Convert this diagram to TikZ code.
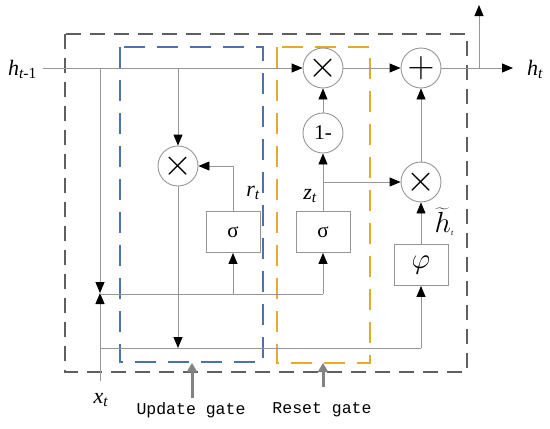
\documentclass[tikz,border=0pt]{standalone}
\usepackage{fontspec}
\setmainfont{Liberation Serif}
\setmonofont{Liberation Mono}
\usetikzlibrary{arrows.meta}
\definecolor{wiregray}{RGB}{150,150,150}
\definecolor{boxgray}{RGB}{95,95,95}
\definecolor{updblue}{RGB}{74,114,176}
\definecolor{rstyellow}{RGB}{230,170,40}
\definecolor{gatearrow}{RGB}{130,130,130}
\begin{document}
\begin{tikzpicture}[x=1pt,y=-1pt,
  wire/.style={draw=wiregray,line width=0.9pt},
  arr/.style={wire,-{Triangle[color=black,length=11pt,width=9pt]}},
  opnode/.style={circle,draw=wiregray,line width=0.9pt,minimum size=40pt,inner sep=0pt,fill=white,font=\fontsize{21}{21}\selectfont},
  actbox/.style={rectangle,draw=wiregray,line width=0.9pt,minimum width=54pt,minimum height=41pt,inner sep=0pt,fill=white,font=\fontsize{21}{21}\selectfont},
  lbl/.style={inner sep=0pt,font=\fontsize{22}{22}\selectfont\itshape},
  gatelbl/.style={inner sep=0pt,font=\fontsize{16.5}{16.5}\selectfont\ttfamily},
  gatearr/.style={draw=gatearrow,line width=3pt,-{Triangle[length=9pt,width=10pt]}},
  outerbox/.style={draw=boxgray,line width=1.2pt,dash pattern=on 15pt off 9pt},
  updbox/.style={draw=updblue,line width=1.8pt,dash pattern=on 21pt off 12pt},
  rstbox/.style={draw=rstyellow,line width=1.8pt,dash pattern=on 21pt off 12pt}
]
\useasboundingbox (0,0) rectangle (550,429);

% dashed regions
\draw[outerbox] (65,34) rectangle (467,372);
\draw[updbox] (120,47) rectangle (263,362);
\draw[rstbox] (277,47) rectangle (370,363);

% nodes
\node[opnode] (mulr) at (178,166) {\scalebox{1.8}{$\times$}};
\node[opnode] (multop) at (323,68) {\scalebox{1.8}{$\times$}};
\node[opnode] (oneminus) at (323,133) {1-};
\node[opnode] (plus) at (421,68) {\scalebox{1.8}{$+$}};
\node[opnode] (mulz) at (421,182) {\scalebox{1.8}{$\times$}};
\node[actbox] (sigr) at (233,232) {σ};
\node[actbox] (sigz) at (323,232) {σ};
\node[actbox] (phi) at (421,265) {\scalebox{1.4}{$\varphi$}};

% coordinates
\coordinate (hin) at (43,68);
\coordinate (jh) at (100,68);
\coordinate (jx) at (100,293);
\coordinate (xin) at (100,381);
\coordinate (jr) at (178,68);
\coordinate (ja) at (100,294);
\coordinate (ja1) at (233,294);
\coordinate (ja2) at (323,294);
\coordinate (jb) at (100,348);
\coordinate (jb1) at (178,348);
\coordinate (jb2) at (421,348);
\coordinate (jz) at (323,182);
\coordinate (hout) at (513,68);
\coordinate (jup) at (479,68);
\coordinate (upout) at (479,5);

% labels
\node[lbl,anchor=east] (lhprev) at (37,69) {h\textsubscript{t\upshape -1}};
\node[lbl,anchor=west] (lhout) at (527,69) {h\textsubscript{t}};
\node[lbl] (lx) at (101,400) {x\textsubscript{t}};
\node[lbl] (lr) at (253,193) {r\textsubscript{t}};
\node[lbl] (lz) at (310,196) {z\textsubscript{t}};
\node[lbl] (lht) at (444,222) {\scalebox{1.4}{$\widetilde{h}$}\raisebox{-3pt}{\fontsize{8}{8}\selectfont t}};

% wires
\draw[arr] (hin) -- (multop);
\draw[arr] (jh) -- (jx);
\draw[arr] (xin) -- (jx);
\draw[arr] (jr) -- (mulr);
\draw[wire] (ja) -- (ja2);
\draw[arr] (ja1) -- (sigr);
\draw[arr] (ja2) -- (sigz);
\draw[arr] (sigr.north) |- (mulr);
\draw[arr] (mulr) -- (jb1);
\draw[wire] (jb) -- (jb2);
\draw[arr] (jb2) -- (phi);
\draw[arr] (sigz) -- (oneminus);
\draw[arr] (jz) -- (mulz);
\draw[arr] (oneminus) -- (multop);
\draw[arr] (multop) -- (plus);
\draw[arr] (phi) -- (mulz);
\draw[arr] (mulz) -- (plus);
\draw[arr] (plus) -- (hout);
\draw[arr] (jup) -- (upout);

% gate arrows and labels
\coordinate (ua) at (192,398);
\coordinate (ub) at (192,363);
\coordinate (ra) at (323,387);
\coordinate (rb) at (323,363);
\draw[gatearr] (ua) -- (ub);
\draw[gatearr] (ra) -- (rb);
\node[gatelbl] (lupd) at (191,410) {Update gate};
\node[gatelbl] (lrst) at (322,410) {Reset gate};
\end{tikzpicture}
\end{document}
